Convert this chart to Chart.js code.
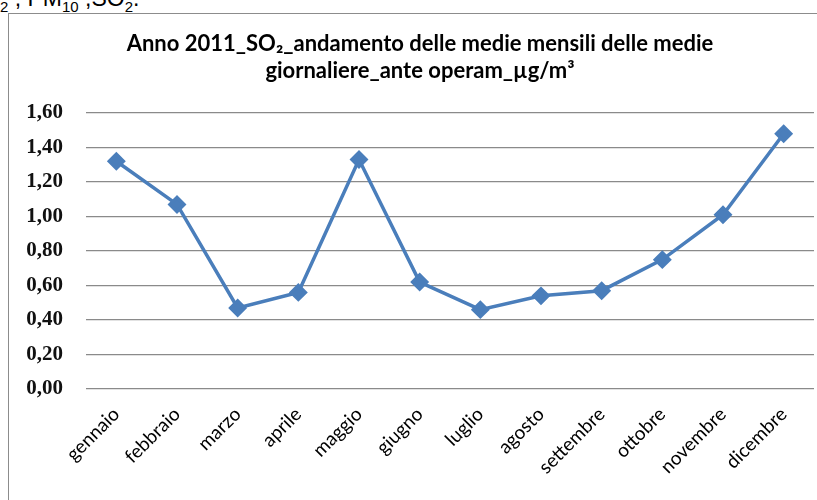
<!DOCTYPE html>
<html>
<head>
<meta charset="utf-8">
<script src="https://cdn.jsdelivr.net/npm/chart.js@4"></script>
<style>
  body { margin: 0; width: 817px; height: 500px; overflow: hidden; background: #fff; position: relative; }
  #caption { position: absolute; left: 0px; top: -15px; font-family: "Liberation Sans", Arial, sans-serif; font-size: 23px; color: #000; white-space: nowrap; }
  #caption sub { font-size: 15px; }
  #box { position: absolute; left: 8px; top: 13px; width: 824px; height: 500px; border: 1.5px solid #8c8c8c; box-sizing: border-box; }
  #wrap { position: absolute; left: 0; top: 0; width: 822px; height: 487px; }
</style>
</head>
<body>
<div id="caption"><sub>2</sub> , PM<sub>10</sub> ,SO<sub>2</sub>.</div>
<div id="box"><div id="wrap"><canvas id="so2Chart"></canvas></div></div>
<script>
const months = ['gennaio', 'febbraio', 'marzo', 'aprile', 'maggio', 'giugno', 'luglio', 'agosto', 'settembre', 'ottobre', 'novembre', 'dicembre'];
const so2Values = [1.32, 1.07, 0.47, 0.56, 1.33, 0.62, 0.46, 0.54, 0.57, 0.75, 1.01, 1.48];
const titleLines = ['Anno 2011_SO\u2082_andamento delle medie mensili delle medie', 'giornaliere_ante operam_\u00b5g/m\u00b3'];

const ctx = document.getElementById('so2Chart').getContext('2d');

const config = {
    type: 'line',
    data: {
        labels: months,
        datasets: [{
            label: 'SO2',
            data: so2Values,
            borderColor: '#4a7ebb',
            backgroundColor: '#4a7ebb',
            borderWidth: 3.5,
            pointStyle: 'rectRot',
            pointRadius: 7,
            pointHoverRadius: 7,
            fill: false,
            tension: 0
        }]
    },
    options: {
        responsive: true,
        maintainAspectRatio: false,
        animation: false,
        layout: { padding: { left: 17, right: 17, top: 0, bottom: 0 } },
        plugins: {
            legend: { display: false },
            tooltip: { enabled: false },
            title: {
                display: true,
                text: titleLines,
                color: '#000',
                font: { family: 'Lato', size: 22, weight: 'bold', lineHeight: 1.25 },
                padding: { top: 16, bottom: 28 }
            }
        },
        scales: {
            x: {
                offset: true,
                grid: { display: false },
                border: { display: false },
                ticks: {
                    color: '#000',
                    font: { family: 'Lato', size: 19 },
                    minRotation: 45,
                    maxRotation: 45,
                    padding: 6
                },
                afterFit: (scale) => { scale.height = 112; }
            },
            y: {
                min: 0,
                max: 1.6,
                grid: { color: '#8a8a8a', lineWidth: 1.3, drawTicks: false },
                border: { display: false },
                ticks: {
                    stepSize: 0.2,
                    color: '#111',
                    padding: 23,
                    font: { family: 'Liberation Serif', size: 21, weight: 'bold' },
                    callback: (v) => v.toFixed(2).replace('.', ',')
                },
                afterFit: (scale) => { scale.width = 60; }
            }
        }
    }
};

const so2Chart = new Chart(ctx, config);
</script>
</body>
</html>
